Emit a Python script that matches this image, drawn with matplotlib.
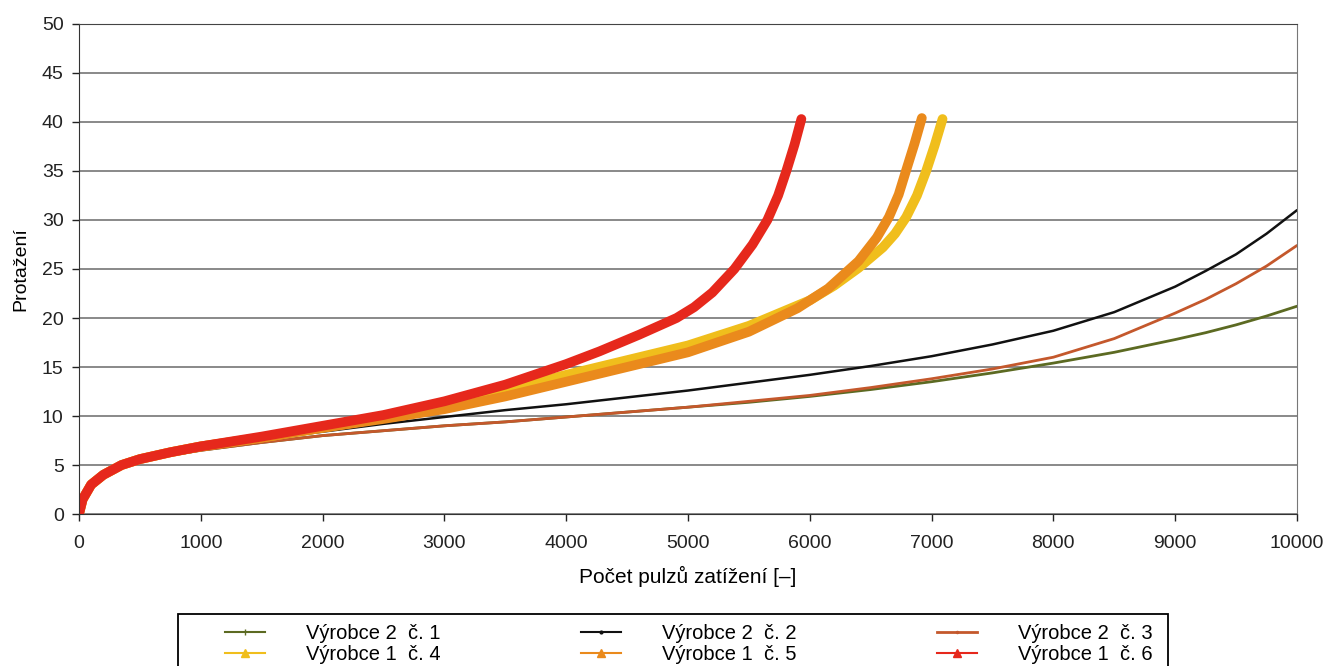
import matplotlib
matplotlib.use('Agg')
import matplotlib.pyplot as plt
from matplotlib.lines import Line2D
from matplotlib.patches import Rectangle

plt.rcParams['font.family'] = ['Liberation Sans', 'DejaVu Sans']

# data
x_v1_6 = [0, 30, 100, 200, 350, 500, 750, 1000, 1500, 2000, 2500, 3000, 3500, 4000,
          4274, 4600, 4906, 5050, 5200, 5381, 5530, 5652, 5740, 5808, 5875, 5931]
y_v1_6 = [0, 1.5, 3.0, 4.0, 5.0, 5.6, 6.3, 6.9, 7.9, 9.0, 10.1, 11.5, 13.2, 15.3,
          16.6, 18.3, 20.0, 21.1, 22.6, 25.0, 27.5, 30.0, 32.5, 35.0, 37.7, 40.3]

x_v1_5 = [0, 30, 100, 200, 350, 500, 750, 1000, 1500, 2000, 2500, 3000, 3500, 4000,
          4500, 5000, 5500, 5900, 6150, 6400, 6550, 6650, 6730, 6792, 6860, 6920]
y_v1_5 = [0, 1.5, 3.0, 4.0, 5.0, 5.6, 6.3, 6.9, 7.8, 8.8, 9.7, 10.7, 12.0, 13.5,
          15.0, 16.5, 18.6, 21.0, 23.0, 25.8, 28.2, 30.3, 32.6, 35.1, 37.8, 40.4]

x_v1_4 = [0, 30, 100, 200, 350, 500, 750, 1000, 1500, 2000, 2500, 3000, 3500, 4000,
          4500, 5000, 5500, 6000, 6200, 6400, 6600, 6700, 6792, 6880, 6956, 7025,
          7090]
y_v1_4 = [0, 1.5, 3.0, 4.0, 5.0, 5.6, 6.3, 6.9, 7.8, 8.8, 9.8, 11.0, 12.6, 14.2,
          15.7, 17.2, 19.2, 21.8, 23.3, 25.1, 27.2, 28.6, 30.3, 32.5, 35.0, 37.6,
          40.3]

x_v2 = [0, 30, 100, 200, 350, 500, 750, 1000, 1500, 2000, 2500, 3000, 3500, 4000,
        4500, 5000, 5500, 6000, 6500, 7000, 7500, 8000, 8500, 9000, 9250, 9500,
        9750, 10000]
y_v2_2 = [0, 1.5, 3.0, 4.0, 4.9, 5.5, 6.2, 6.7, 7.6, 8.4, 9.2, 9.9, 10.6, 11.2,
          11.9, 12.6, 13.4, 14.2, 15.1, 16.1, 17.3, 18.7, 20.6, 23.2, 24.8, 26.5,
          28.6, 31.0]
y_v2_3 = [0, 1.5, 3.0, 3.9, 4.8, 5.4, 6.0, 6.5, 7.3, 8.0, 8.5, 9.0, 9.4, 9.9,
          10.4, 10.9, 11.5, 12.1, 12.9, 13.8, 14.8, 16.0, 17.9, 20.5, 21.9, 23.5,
          25.3, 27.4]
y_v2_1 = [0, 1.5, 3.0, 3.9, 4.8, 5.4, 6.0, 6.5, 7.3, 8.0, 8.5, 9.0, 9.4, 9.9,
          10.4, 10.9, 11.4, 12.0, 12.7, 13.5, 14.4, 15.4, 16.5, 17.8, 18.5, 19.3,
          20.2, 21.2]

labels = ['Výrobce 2  č. 1', 'Výrobce 1  č. 4', 'Výrobce 2  č. 2',
          'Výrobce 1  č. 5', 'Výrobce 2  č. 3', 'Výrobce 1  č. 6']

c1 = '#5c6a22'
c2 = '#111111'
c3 = '#c4582c'
c4 = '#f0be1c'
c5 = '#ea8a1c'
c6 = '#e6281c'

fig = plt.figure(figsize=(13.32, 6.66), dpi=100)
ax = fig.add_axes([0.0593, 0.2282, 0.9144, 0.7358])

ax.plot(x_v2, y_v2_1, color=c1, lw=2.0, solid_capstyle='round')
ax.plot(x_v2, y_v2_3, color=c3, lw=2.0, solid_capstyle='round')
ax.plot(x_v2, y_v2_2, color=c2, lw=1.8, solid_capstyle='round')
ax.plot(x_v1_4, y_v1_4, color=c4, lw=7, solid_capstyle='round')
ax.plot(x_v1_5, y_v1_5, color=c5, lw=7, solid_capstyle='round')
ax.plot(x_v1_6, y_v1_6, color=c6, lw=7, solid_capstyle='round')

ax.set_xlim(0, 10000)
ax.set_ylim(0, 50)
ax.set_xticks(range(0, 10001, 1000))
ax.set_yticks(range(0, 51, 5))
ax.yaxis.grid(True, color='#6a6a6a', lw=1.1)
ax.set_axisbelow(True)
ax.spines['top'].set_color('#444444')
ax.spines['right'].set_color('#777777')
for s in ['left', 'bottom']:
    ax.spines[s].set_color('#333333')
ax.tick_params(axis='both', labelsize=14, colors='#222222', length=5, width=1)
ax.tick_params(axis='x', pad=10)
ax.tick_params(axis='y', pad=6)
ax.set_xlabel('Počet pulzů zatížení [–]', fontsize=15, labelpad=10)
ax.set_ylabel('Protažení', fontsize=14, labelpad=9)

# legend: column-major order for 3 columns
handles = [
    Line2D([], [], color=c1, lw=1.5, marker='|', ms=4),
    Line2D([], [], color=c4, lw=1.5, marker='^', ms=6),
    Line2D([], [], color=c2, lw=1.5, marker='.', ms=4),
    Line2D([], [], color=c5, lw=1.5, marker='^', ms=6),
    Line2D([], [], color=c3, lw=2, marker='.', ms=3),
    Line2D([], [], color=c6, lw=1.5, marker='^', ms=6),
]
leg = fig.legend(handles, labels, ncol=3, loc='upper left',
                 bbox_to_anchor=(225 / 1332, 1 - 624 / 666),
                 fontsize=14.5, frameon=False, borderpad=0, labelspacing=0.08,
                 handlelength=2.0, handletextpad=2.0, columnspacing=7.0,
                 borderaxespad=0)

fig.patches.append(Rectangle((178 / 1332, -0.05), 990 / 1332, 0.05 + 1 - 614 / 666,
                             transform=fig.transFigure, fill=False,
                             edgecolor='black', lw=1.3))

fig.savefig('out.png', dpi=100)
